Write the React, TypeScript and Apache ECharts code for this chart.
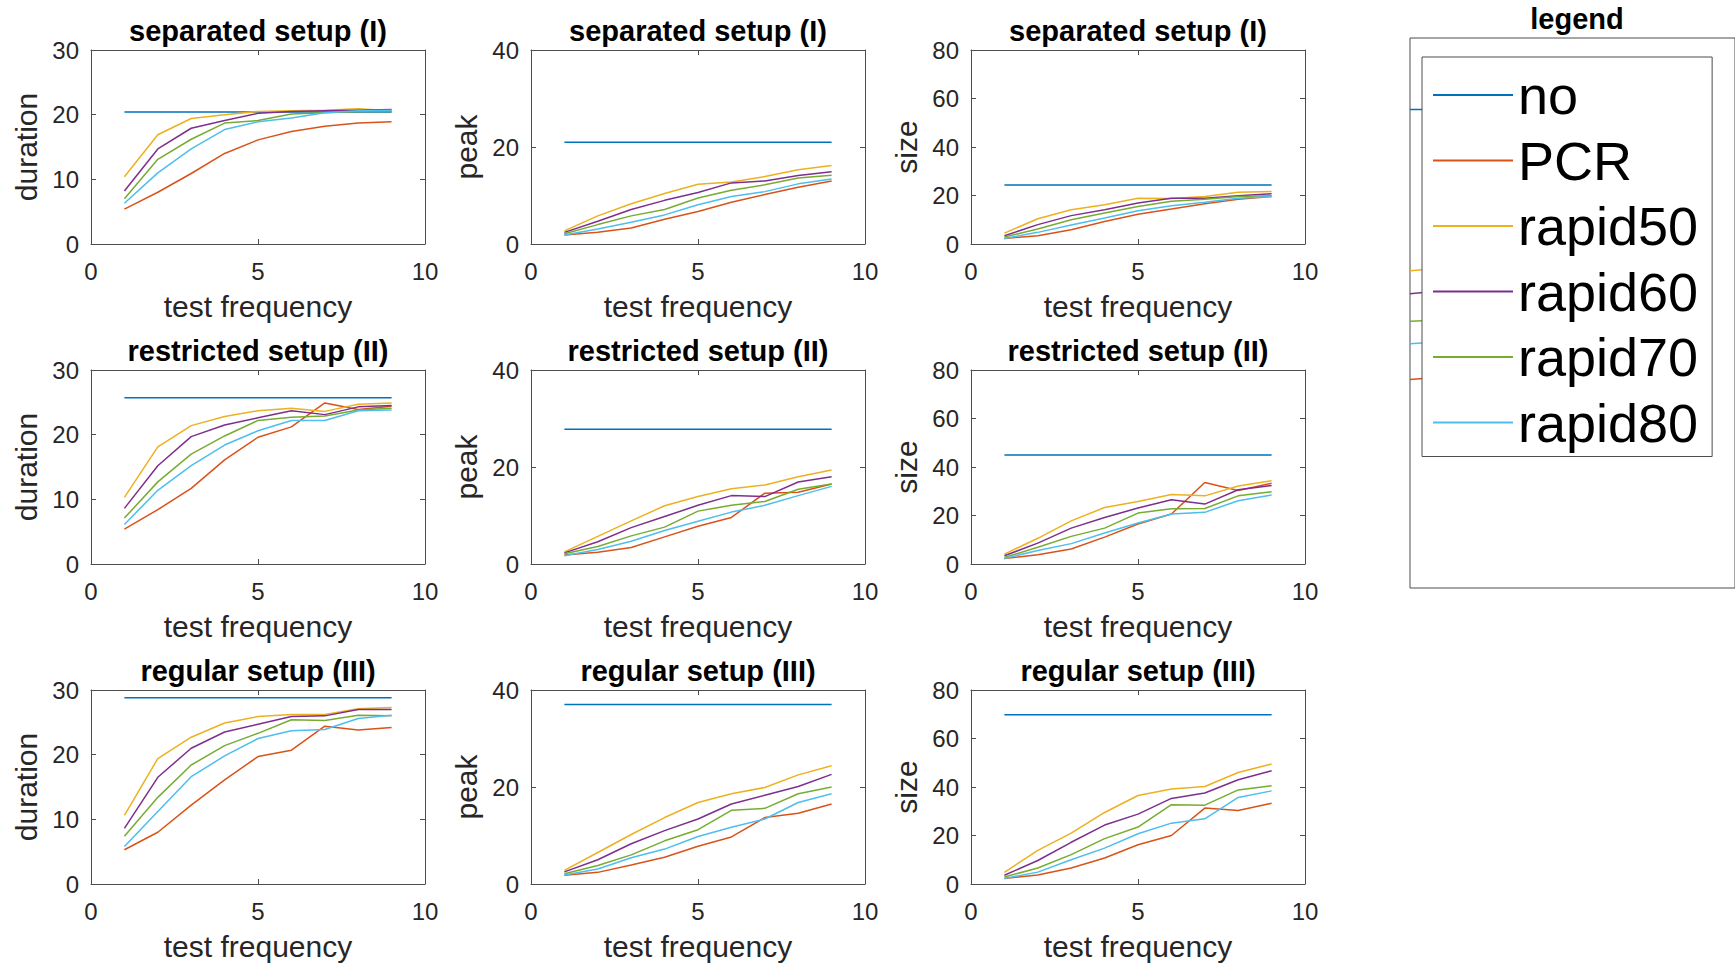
import React, { useEffect, useRef } from "react";
import * as echarts from "echarts";

const FONT = "'Liberation Sans', Arial, Helvetica, sans-serif";

const seriesNames = ["no", "PCR", "rapid50", "rapid60", "rapid70", "rapid80"];
const seriesColors = ["#0072BD", "#D95319", "#EDB120", "#7E2F8E", "#77AC30", "#4DBEEE"];
const testFrequency = [1, 2, 3, 4, 5, 6, 7, 8, 9];
const setupTitles = ["separated setup (I)", "restricted setup (II)", "regular setup (III)"];
const measureLabels = ["duration", "peak", "size"];
const xAxisLabel = "test frequency";
const xRange = [0, 10];
const xStep = 5;
const yMaxByMeasure = [30, 40, 80];
const yStepByMeasure = [10, 20, 20];

// rows: no, PCR, rapid50, rapid60, rapid70, rapid80
const sepDuration = [
  [20.4, 20.4, 20.4, 20.4, 20.4, 20.4, 20.4, 20.4, 20.4],
  [5.4, 8.0, 10.9, 14.0, 16.1, 17.4, 18.2, 18.7, 18.9],
  [10.4, 16.9, 19.4, 20.0, 20.5, 20.6, 20.7, 20.9, 20.6],
  [8.2, 14.7, 17.9, 19.1, 20.2, 20.5, 20.6, 20.7, 20.8],
  [7.0, 13.1, 16.2, 18.7, 19.1, 20.1, 20.3, 20.5, 20.5],
  [6.3, 11.0, 14.7, 17.7, 18.9, 19.5, 20.3, 20.6, 20.7],
];
const sepPeak = [
  [21.0, 21.0, 21.0, 21.0, 21.0, 21.0, 21.0, 21.0, 21.0],
  [1.85, 2.4, 3.3, 5.1, 6.7, 8.6, 10.2, 11.7, 13.0],
  [2.7, 5.8, 8.3, 10.4, 12.3, 12.8, 13.9, 15.3, 16.2],
  [2.4, 4.7, 7.1, 9.0, 10.6, 12.6, 13.0, 14.1, 14.9],
  [2.1, 4.0, 5.8, 7.1, 9.5, 11.1, 12.2, 13.6, 14.2],
  [1.85, 3.1, 4.5, 6.0, 8.1, 9.8, 10.8, 12.4, 13.4],
];
const sepSize = [
  [24.3, 24.3, 24.3, 24.3, 24.3, 24.3, 24.3, 24.3, 24.3],
  [2.3, 3.4, 5.9, 9.3, 12.3, 14.4, 16.6, 18.5, 19.6],
  [4.5, 10.4, 14.1, 16.2, 18.9, 18.8, 19.6, 21.3, 21.7],
  [3.4, 8.0, 11.7, 14.1, 16.9, 18.9, 18.9, 19.9, 20.7],
  [2.9, 6.2, 10.0, 12.8, 15.5, 17.6, 18.5, 19.6, 19.9],
  [2.3, 4.8, 7.8, 10.7, 13.7, 15.8, 17.2, 18.9, 19.6],
];
const resDuration = [
  [25.7, 25.7, 25.7, 25.7, 25.7, 25.7, 25.7, 25.7, 25.7],
  [5.4, 8.4, 11.7, 16.1, 19.6, 21.2, 24.9, 23.9, 24.4],
  [10.3, 18.1, 21.4, 22.8, 23.7, 24.1, 23.6, 24.7, 24.9],
  [8.6, 15.2, 19.7, 21.5, 22.6, 23.7, 23.1, 24.3, 24.5],
  [7.1, 12.7, 17.0, 19.8, 22.2, 22.7, 22.9, 23.8, 24.1],
  [6.1, 11.4, 15.2, 18.4, 20.6, 22.2, 22.2, 23.7, 23.8],
];
const resPeak = [
  [27.8, 27.8, 27.8, 27.8, 27.8, 27.8, 27.8, 27.8, 27.8],
  [1.85, 2.4, 3.4, 5.6, 7.8, 9.6, 14.6, 14.8, 16.5],
  [2.5, 5.7, 8.9, 12.0, 13.9, 15.5, 16.3, 18.0, 19.4],
  [2.3, 4.6, 7.5, 9.8, 12.1, 14.1, 13.9, 16.9, 18.0],
  [2.1, 3.6, 5.8, 7.6, 10.9, 12.1, 12.9, 15.4, 16.5],
  [1.7, 3.0, 4.7, 6.9, 8.8, 10.7, 12.1, 14.1, 16.0],
];
const resSize = [
  [45.0, 45.0, 45.0, 45.0, 45.0, 45.0, 45.0, 45.0, 45.0],
  [2.3, 3.8, 6.2, 11.1, 16.5, 20.6, 33.6, 30.3, 33.3],
  [4.1, 10.6, 17.8, 23.3, 25.8, 28.7, 28.1, 32.2, 34.3],
  [3.4, 8.6, 14.8, 19.2, 23.1, 26.5, 24.7, 30.6, 32.4],
  [2.7, 6.9, 11.4, 14.8, 21.0, 22.8, 22.9, 28.1, 29.8],
  [2.3, 5.6, 8.4, 12.8, 16.9, 20.6, 21.3, 26.1, 28.5],
];
const regDuration = [
  [28.8, 28.8, 28.8, 28.8, 28.8, 28.8, 28.8, 28.8, 28.8],
  [5.3, 8.0, 12.2, 16.1, 19.7, 20.7, 24.4, 23.8, 24.2],
  [10.6, 19.4, 22.7, 24.9, 25.9, 26.2, 26.2, 27.1, 27.3],
  [8.6, 16.5, 21.0, 23.5, 24.7, 25.9, 26.0, 27.0, 27.0],
  [7.4, 13.4, 18.4, 21.4, 23.3, 25.4, 25.3, 26.1, 26.0],
  [5.8, 11.2, 16.6, 19.8, 22.5, 23.7, 23.9, 25.6, 26.1],
];
const regPeak = [
  [37.0, 37.0, 37.0, 37.0, 37.0, 37.0, 37.0, 37.0, 37.0],
  [1.8, 2.4, 3.9, 5.5, 7.8, 9.7, 13.7, 14.6, 16.5],
  [2.8, 6.5, 10.2, 13.7, 16.8, 18.6, 19.9, 22.5, 24.4],
  [2.5, 5.0, 8.3, 11.0, 13.4, 16.5, 18.3, 20.1, 22.6],
  [2.1, 3.8, 6.0, 8.9, 11.2, 15.2, 15.6, 18.6, 20.0],
  [1.85, 3.1, 5.4, 7.2, 9.8, 11.7, 13.4, 16.8, 18.6],
];
const regSize = [
  [69.8, 69.8, 69.8, 69.8, 69.8, 69.8, 69.8, 69.8, 69.8],
  [2.3, 3.7, 6.6, 10.7, 16.2, 20.0, 31.3, 30.3, 33.3],
  [4.8, 13.9, 21.0, 29.5, 36.5, 39.2, 40.2, 46.0, 49.5],
  [3.6, 9.7, 17.2, 24.3, 28.8, 35.3, 37.5, 43.0, 46.7],
  [2.9, 6.6, 12.1, 18.7, 23.5, 32.7, 32.5, 38.8, 40.5],
  [2.3, 4.9, 10.0, 14.8, 20.7, 25.1, 26.9, 35.7, 38.4],
];

const panelData = [
  [sepDuration, sepPeak, sepSize],
  [resDuration, resPeak, resSize],
  [regDuration, regPeak, regSize],
];

// lines of the "legend" panel (hidden axes), at its two visible ends
const legendPanelX = [0, 1];
const legendPanelStart = [87.0, 37.9, 57.7, 53.5, 48.5, 44.4];
const legendPanelEnd = [87.0, 41.5, 61.6, 58.1, 50.4, 47.6];
const legendPanelTitle = "legend";

// layout
const gridLefts = [91, 531, 971];
const gridTops = [50, 370, 690];
const gridW = 334;
const gridH = 194;
const AXIS_COLOR = "#4d4d4d";
const TEXT_COLOR = "#262626";

function titleText(text: string, x: number, y: number) {
  return {
    type: "text",
    x,
    y,
    style: {
      text,
      fill: "#000",
      font: `bold 29px ${FONT}`,
      fontSize: 29,
      fontWeight: "bold",
      fontFamily: FONT,
      align: "center",
      verticalAlign: "middle",
      textAlign: "center",
      textVerticalAlign: "middle",
    },
  };
}

function buildOption() {
  const grid: any[] = [];
  const xAxis: any[] = [];
  const yAxis: any[] = [];
  const series: any[] = [];
  const graphic: any[] = [];

  const axisLine = { show: true, onZero: false, lineStyle: { color: AXIS_COLOR, width: 1 } };
  const axisTick = { show: true, inside: true, length: 5, lineStyle: { color: AXIS_COLOR, width: 1 } };

  for (let r = 0; r < 3; r++) {
    for (let c = 0; c < 3; c++) {
      const gi = grid.length;
      const left = gridLefts[c];
      const top = gridTops[r];
      grid.push({ left, top, width: gridW, height: gridH, show: false });
      xAxis.push({
        gridIndex: gi, type: "value", position: "bottom",
        min: xRange[0], max: xRange[1], interval: xStep,
        name: xAxisLabel, nameLocation: "middle", nameGap: 47,
        nameTextStyle: { fontSize: 30, color: TEXT_COLOR, fontFamily: FONT },
        axisLine, axisTick,
        axisLabel: { fontSize: 24, color: TEXT_COLOR, margin: 15, fontFamily: FONT },
        splitLine: { show: false },
      });
      xAxis.push({
        gridIndex: gi, type: "value", position: "top",
        min: xRange[0], max: xRange[1], interval: xStep,
        axisLine, axisTick, axisLabel: { show: false }, splitLine: { show: false },
      });
      yAxis.push({
        gridIndex: gi, type: "value", position: "left",
        min: 0, max: yMaxByMeasure[c], interval: yStepByMeasure[c],
        name: measureLabels[c], nameLocation: "middle", nameGap: 50,
        nameTextStyle: { fontSize: 30, color: TEXT_COLOR, fontFamily: FONT },
        axisLine, axisTick,
        axisLabel: { fontSize: 24, color: TEXT_COLOR, margin: 12, fontFamily: FONT },
        splitLine: { show: false },
      });
      yAxis.push({
        gridIndex: gi, type: "value", position: "right",
        min: 0, max: yMaxByMeasure[c], interval: yStepByMeasure[c],
        axisLine, axisTick, axisLabel: { show: false }, splitLine: { show: false },
      });
      const rows = panelData[r][c];
      rows.forEach((vals, si) => {
        series.push({
          type: "line",
          name: seriesNames[si],
          xAxisIndex: 2 * gi,
          yAxisIndex: 2 * gi,
          data: testFrequency.map((x, i) => [x, vals[i]]),
          symbol: "none",
          silent: true,
          lineStyle: { width: 1.5, color: seriesColors[si] },
          itemStyle: { color: seriesColors[si] },
        });
      });
      graphic.push(titleText(setupTitles[r], left + gridW / 2, top - 19));
    }
  }

  // legend panel
  const li = grid.length;
  grid.push({ left: 1410, top: 38, width: 400, height: 550, show: true, borderColor: AXIS_COLOR, borderWidth: 1, backgroundColor: "transparent" });
  xAxis.push({ gridIndex: li, type: "value", show: false, min: 0, max: 1.23 });
  yAxis.push({ gridIndex: li, type: "value", show: false, min: 0, max: 100 });
  seriesNames.forEach((name, si) => {
    series.push({
      type: "line",
      name,
      xAxisIndex: xAxis.length - 1,
      yAxisIndex: yAxis.length - 1,
      data: legendPanelX.map((x, i) => [x, i === 0 ? legendPanelStart[si] : legendPanelEnd[si]]),
      symbol: "none",
      silent: true,
      lineStyle: { width: 1.5, color: seriesColors[si] },
      itemStyle: { color: seriesColors[si] },
    });
  });
  graphic.push(titleText(legendPanelTitle, 1577, 19));

  return {
    animation: false,
    backgroundColor: "#ffffff",
    grid,
    xAxis,
    yAxis,
    series,
    graphic,
    legend: {
      data: seriesNames.map((name) => ({ name, icon: "rect" })),
      orient: "vertical",
      left: 1422,
      top: 57,
      itemWidth: 80,
      itemHeight: 2,
      itemGap: 11.5,
      padding: [11, 14, 7, 11],
      backgroundColor: "#ffffff",
      borderColor: AXIS_COLOR,
      borderWidth: 1,
      selectedMode: false,
      textStyle: { fontSize: 54, lineHeight: 54, color: "#000", fontFamily: FONT },
    },
  };
}

export default function App() {
  const ref = useRef<HTMLDivElement>(null);
  useEffect(() => {
    if (!ref.current) return;
    const chart = echarts.init(ref.current, undefined, { renderer: "svg" });
    chart.setOption(buildOption() as any);
    return () => chart.dispose();
  }, []);
  return (
    <div
      ref={ref}
      style={{ position: "absolute", left: 0, top: 0, width: 1735, height: 964, background: "#fff" }}
    />
  );
}
